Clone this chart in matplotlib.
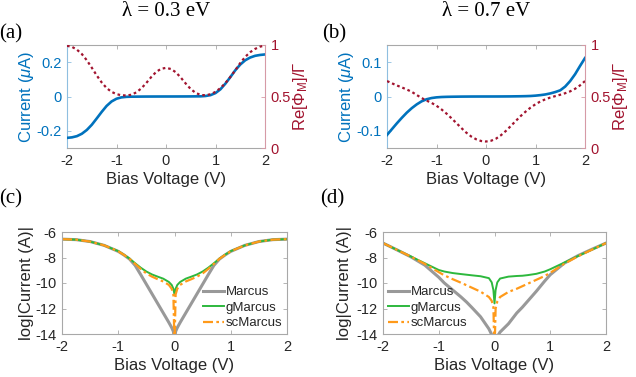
import matplotlib
matplotlib.use("Agg")
import matplotlib.pyplot as plt

plt.rcParams['font.family'] = ['Liberation Sans', 'DejaVu Sans']
plt.rcParams['axes.unicode_minus'] = False
plt.rcParams['mathtext.fontset'] = 'custom'
plt.rcParams['mathtext.rm'] = 'Liberation Sans'
plt.rcParams['mathtext.it'] = 'Liberation Sans:italic'

# ---------------- data ----------------
bias_ab = [-2.0, -1.9, -1.8, -1.7, -1.6, -1.5, -1.4, -1.3, -1.2, -1.1, -1.0,
           -0.9, -0.8, -0.7, -0.6, -0.5, -0.4, -0.3, -0.2, -0.1, 0.0,
           0.1, 0.2, 0.3, 0.4, 0.5, 0.6, 0.7, 0.8, 0.9, 1.0,
           1.1, 1.2, 1.3, 1.4, 1.5, 1.6, 1.7, 1.8, 1.9, 2.0]

current_a = [-0.241, -0.238, -0.231, -0.217, -0.195, -0.165, -0.128, -0.090, -0.055, -0.029, -0.013,
             -0.005, -0.002, -0.001, -0.0008, -0.0005, -0.0003, -0.0002, -0.0001, -0.00005, 0.0,
             0.00005, 0.0001, 0.0002, 0.0003, 0.0005, 0.0008, 0.001, 0.003, 0.008, 0.020,
             0.042, 0.075, 0.113, 0.153, 0.186, 0.211, 0.227, 0.237, 0.242, 0.245]

phi_a = [0.992, 0.982, 0.955, 0.912, 0.852, 0.780, 0.705, 0.637, 0.582, 0.545, 0.523,
         0.512, 0.510, 0.517, 0.540, 0.578, 0.630, 0.688, 0.738, 0.769, 0.778,
         0.767, 0.735, 0.683, 0.625, 0.572, 0.535, 0.515, 0.512, 0.522, 0.545,
         0.582, 0.630, 0.690, 0.755, 0.825, 0.885, 0.930, 0.962, 0.984, 0.995]

current_b = [-0.112, -0.095, -0.078, -0.062, -0.047, -0.034, -0.023, -0.014, -0.008, -0.0045, -0.0025,
             -0.0015, -0.001, -0.0007, -0.0005, -0.0003, -0.0002, -0.0001, -0.00005, -0.00002, 0.0,
             0.00002, 0.00005, 0.0001, 0.0002, 0.0003, 0.0005, 0.0007, 0.001, 0.0015, 0.0025,
             0.004, 0.006, 0.009, 0.013, 0.018, 0.029, 0.045, 0.065, 0.089, 0.112]

phi_b = [0.650, 0.628, 0.607, 0.588, 0.568, 0.545, 0.515, 0.485, 0.460, 0.438, 0.410,
         0.375, 0.335, 0.290, 0.243, 0.195, 0.150, 0.112, 0.085, 0.068, 0.063,
         0.070, 0.090, 0.123, 0.165, 0.213, 0.262, 0.310, 0.353, 0.392, 0.425,
         0.452, 0.473, 0.490, 0.504, 0.517, 0.532, 0.550, 0.575, 0.608, 0.650]

bias_c = [-2.0, -1.75, -1.5, -1.25, -1.0, -0.9, -0.8, -0.7, -0.6, -0.5, -0.4, -0.3, -0.2, -0.1,
          -0.05, -0.02, 0.0, 0.02, 0.05,
          0.1, 0.2, 0.3, 0.4, 0.5, 0.6, 0.7, 0.8, 0.9, 1.0, 1.25, 1.5, 1.75, 2.0]

marcus_c = [-6.56, -6.60, -6.75, -7.05, -7.52, -7.80, -8.12, -8.62, -9.35, -10.10, -10.85, -11.60, -12.35, -13.10,
            -13.50, -13.80, -14.50, -13.80, -13.50,
            -13.10, -12.35, -11.60, -10.85, -10.10, -9.35, -8.62, -8.12, -7.80, -7.52, -7.05, -6.75, -6.60, -6.56]

gmarcus_c = [-6.56, -6.60, -6.75, -7.05, -7.50, -7.78, -8.08, -8.45, -8.80, -9.10, -9.33, -9.50, -9.66, -9.92,
             -10.15, -10.45, -10.90, -10.45, -10.15,
             -9.92, -9.66, -9.50, -9.33, -9.10, -8.80, -8.45, -8.08, -7.78, -7.50, -7.05, -6.75, -6.60, -6.56]

scmarcus_c = [-6.56, -6.60, -6.75, -7.05, -7.51, -7.79, -8.10, -8.50, -8.90, -9.25, -9.50, -9.70, -9.88, -10.15,
              -10.45, -10.90, -15.00, -10.90, -10.45,
              -10.15, -9.88, -9.70, -9.50, -9.25, -8.90, -8.50, -8.10, -7.79, -7.51, -7.05, -6.75, -6.60, -6.56]

bias_d = [-2.0, -1.75, -1.5, -1.25, -1.0, -0.9, -0.75, -0.6, -0.5, -0.4, -0.25, -0.1, -0.05, -0.02, 0.0,
          0.02, 0.05, 0.1, 0.25, 0.4, 0.5, 0.6, 0.75, 0.9, 1.0, 1.25, 1.5, 1.75, 2.0]

marcus_d = [-6.87, -7.40, -7.95, -8.60, -9.55, -10.00, -10.55, -11.10, -11.50, -11.95, -12.65, -13.60, -14.05, -14.60, -15.50,
            -14.80, -14.20, -13.85, -13.20, -12.35, -11.90, -11.40, -10.65, -9.85, -9.35, -8.45, -7.85, -7.35, -6.87]

gmarcus_d = [-6.87, -7.40, -7.92, -8.45, -8.98, -9.10, -9.22, -9.30, -9.35, -9.40, -9.47, -9.62, -9.95, -10.55, -11.60,
             -10.55, -9.95, -9.65, -9.50, -9.45, -9.43, -9.38, -9.28, -9.10, -8.92, -8.40, -7.88, -7.38, -6.87]

scmarcus_d = [-6.87, -7.40, -7.93, -8.50, -9.15, -9.40, -9.70, -9.98, -10.18, -10.38, -10.68, -11.10, -11.40, -11.90, -15.50,
              -12.00, -11.45, -11.10, -10.70, -10.45, -10.25, -10.05, -9.75, -9.45, -9.20, -8.50, -7.90, -7.38, -6.87]

titles = ['λ = 0.3 eV', 'λ = 0.7 eV']
panel_labels = ['(a)', '(b)', '(c)', '(d)']
legend_names = ['Marcus', 'gMarcus', 'scMarcus']

# ---------------- style ----------------
BLUE = '#0072BD'
RED = '#A2142F'
GRAY = '#999999'
GREEN = '#2DB83D'
ORANGE = '#FF9A1A'
SPINE = '#a8a8a8'
TXT = '#262626'
TICKSIZE = 10.5
LABSIZE = 12

fig = plt.figure(figsize=(6.36, 3.77), dpi=100)
W, H = 636, 377

def ax_at(l, r, t, b):
    return fig.add_axes([l / W, 1 - b / H, (r - l) / W, (b - t) / H])

def style_box(ax):
    for s in ax.spines.values():
        s.set_color(SPINE)
        s.set_linewidth(0.8)
    ax.tick_params(direction='in', length=3, width=0.6, color=SPINE,
                   labelsize=TICKSIZE, labelcolor=TXT, top=True, right=True, pad=4)

def place_ylabel(ax, l, r, cx):
    # cx: pixel x of the label centre
    ax.yaxis.set_label_coords((cx - l) / (r - l), 0.5)
    ax.yaxis.label.set_horizontalalignment('center')
    ax.yaxis.label.set_verticalalignment('center')

# top panels
top_specs = [
    (67, 265, current_a, phi_a, (-0.3, 0.3), [-0.2, 0, 0.2], ['-0.2', '0', '0.2'], 27, 300),
    (387, 585, current_b, phi_b, (-0.15, 0.15), [-0.1, 0, 0.1], ['-0.1', '0', '0.1'], 346, 621),
]
for i, (l, r, cur, phi, ylim, yt, ytl, lx, rx) in enumerate(top_specs):
    ax = ax_at(l, r, 45, 148)
    style_box(ax)
    ax.plot(bias_ab, cur, color=BLUE, lw=1.9, zorder=3)
    ax.set_xlim(-2, 2)
    ax.set_ylim(*ylim)
    ax.set_xticks([-2, -1, 0, 1, 2])
    ax.set_xticklabels(['-2', '-1', '0', '1', '2'])
    ax.set_yticks(yt)
    ax.set_yticklabels(ytl)
    ax.tick_params(axis='y', right=False, colors='#8fbfe0', labelcolor=BLUE)
    ax.spines['left'].set_color('#8fbfe0')
    ax.spines['right'].set_visible(False)
    ax.set_xlabel('Bias Voltage (V)', fontsize=LABSIZE, color=TXT, labelpad=3)
    ax.set_ylabel(r'Current ($\mu$A)', fontsize=LABSIZE, color=BLUE)
    place_ylabel(ax, l, r, lx)
    ax2 = ax.twinx()
    ax2.plot(bias_ab, phi, color=RED, lw=1.6, linestyle=(0, (1.2, 1.3)), zorder=2)
    ax2.set_ylim(0, 1)
    ax2.set_yticks([0, 0.5, 1])
    ax2.set_yticklabels(['0', '0.5', '1'])
    for s in ax2.spines.values():
        s.set_visible(False)
    ax2.spines['right'].set_visible(True)
    ax2.spines['right'].set_color('#d69aa6')
    ax2.spines['right'].set_linewidth(0.8)
    ax2.tick_params(axis='y', direction='in', length=3, width=0.6, colors='#d69aa6',
                    labelcolor=RED, labelsize=TICKSIZE, pad=4)
    ax2.set_ylabel(r'Re[$\mathrm{\Phi}_{\mathrm{M}}$]/$\mathrm{\Gamma}$', fontsize=LABSIZE, color=RED)
    ax2.yaxis.label.set_rotation(90)
    place_ylabel(ax2, l, r, rx)
    fig.text((166 if i == 0 else 486) / W, 1 - 12 / H, titles[i], family='Liberation Serif',
             fontsize=15, ha='center', va='center', color='black')

# bottom panels
bot_specs = [
    (62, 287, bias_c, marcus_c, gmarcus_c, scmarcus_c, 'lower right', (1.0, 0.0), 26),
    (383, 606, bias_d, marcus_d, gmarcus_d, scmarcus_d, 'lower left', (0.0, 0.0), 345),
]
for i, (l, r, xs, m, g, sc, loc, anchor, lx) in enumerate(bot_specs):
    ax = ax_at(l, r, 232, 334)
    style_box(ax)
    ax.plot(xs, m, color=GRAY, lw=2.2, label=legend_names[0])
    ax.plot(xs, g, color=GREEN, lw=1.4, label=legend_names[1])
    ax.plot(xs, sc, color=ORANGE, lw=1.6, linestyle=(0, (4.5, 1.5, 1.2, 1.5)), label=legend_names[2])
    ax.set_xlim(-2, 2)
    ax.set_ylim(-14, -6)
    ax.set_xticks([-2, -1, 0, 1, 2])
    ax.set_xticklabels(['-2', '-1', '0', '1', '2'])
    ax.set_yticks([-14, -12, -10, -8, -6])
    ax.set_yticklabels(['-14', '-12', '-10', '-8', '-6'])
    ax.set_xlabel('Bias Voltage (V)', fontsize=LABSIZE, color=TXT, labelpad=3)
    ax.set_ylabel('log|Current (A)|', fontsize=LABSIZE, color=TXT)
    place_ylabel(ax, l, r, lx)
    leg = ax.legend(loc=loc, bbox_to_anchor=anchor, frameon=False, fontsize=9.5,
                    handlelength=1.6, handletextpad=0.15, labelspacing=0.25,
                    borderaxespad=0.15, borderpad=0.2)
    for t in leg.get_texts():
        t.set_color(TXT)

# panel labels
label_pos = [(11, 34), (334, 34), (11, 199), (332, 199)]
for lab, (x, y) in zip(panel_labels, label_pos):
    fig.text(x / W, 1 - y / H, lab, family='Liberation Serif', fontsize=15,
             ha='center', va='center', color='black')

fig.savefig('out.png', dpi=100)
